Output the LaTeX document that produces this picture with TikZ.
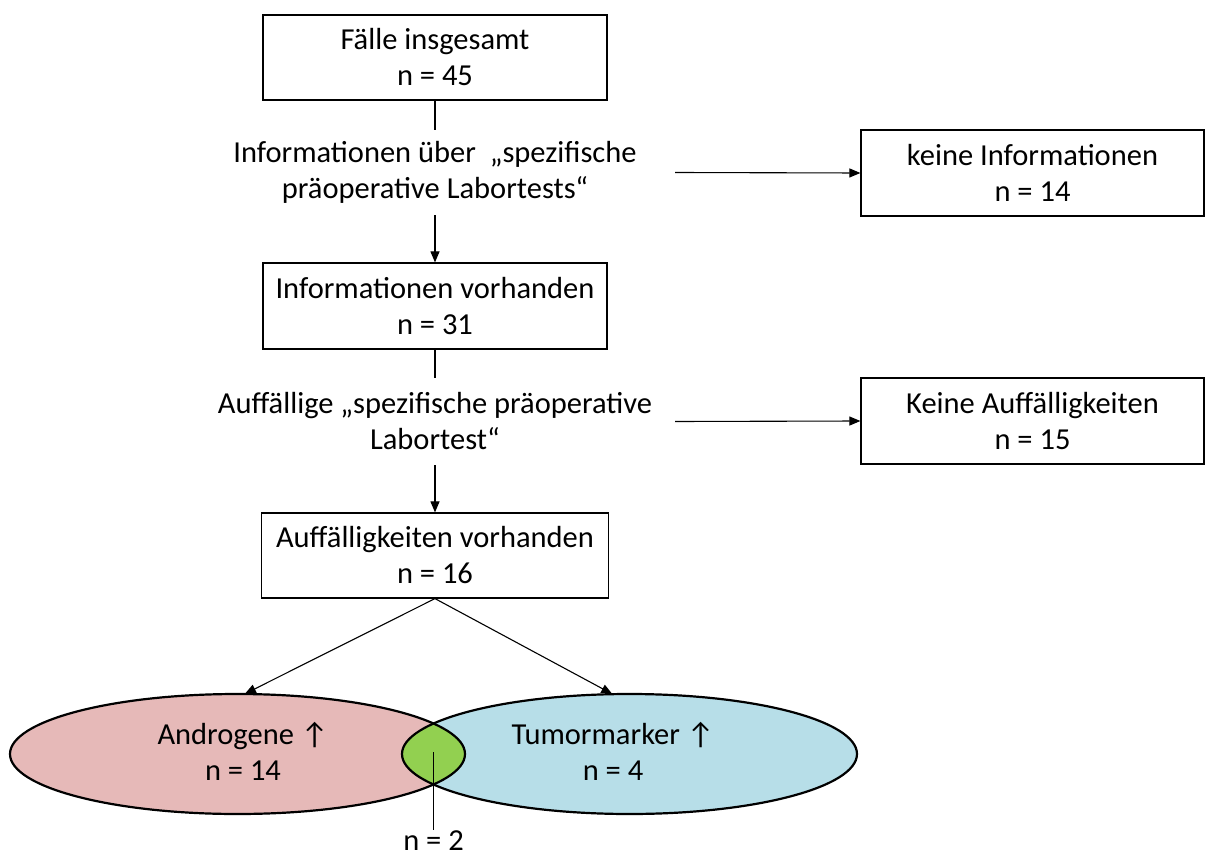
\documentclass[tikz,border=0pt]{standalone}
\usepackage{fontspec}
\setmainfont{Carlito}
\usetikzlibrary{arrows.meta,shapes.geometric}
\definecolor{pinkc}{HTML}{E6B9B8}
\definecolor{bluec}{HTML}{B7DEE8}
\definecolor{greenc}{HTML}{92D050}
\newcommand\fs{\fontsize{30.5}{36}\selectfont}
\begin{document}
\begin{tikzpicture}[x=1pt,y=-1pt,
  box/.style={draw,line width=1.2pt,inner sep=0pt,align=center,font=\fs},
  plain/.style={inner sep=0pt,align=center,font=\fs},
  arr/.style={line width=1.1pt,-{Triangle[length=11pt,width=9pt]}},
  conn/.style={line width=1.1pt},
  ellfill/.style={ellipse,inner sep=0pt,minimum width=455,minimum height=120},
  ellline/.style={line width=2.2pt}]
\useasboundingbox (0,0) rectangle (1205,861);
% boxes
\node[box,minimum width=344,minimum height=85] (b1) at (435,57.5) {Fälle insgesamt\\n = 45};
\node[plain,minimum width=480,minimum height=85] (q1) at (435,172.5) {Informationen über\ \ „spezifische\\präoperative Labortests“};
\node[box,minimum width=343,minimum height=86] (k1) at (1032.5,173) {keine Informationen\\n = 14};
\node[box,minimum width=344,minimum height=86] (b2) at (435,306) {Informationen vorhanden\\n = 31};
\node[plain,minimum width=480,minimum height=87] (q2) at (435,421.5) {Auffällige „spezifische präoperative\\Labortest“};
\node[box,minimum width=343,minimum height=86] (k2) at (1032.5,421) {Keine Auffälligkeiten\\n = 15};
\node[box,minimum width=347,minimum height=85] (b3) at (435,555.5) {Auffälligkeiten vorhanden\\n = 16};
% connectors
\draw[conn] (b1.south) -- (q1.north);
\draw[arr] (q1.south) -- (b2.north);
\draw[arr] (q1.east) -- (k1.west);
\draw[conn] (b2.south) -- (q2.north);
\draw[arr] (q2.south) -- (b3.north);
\draw[arr] (q2.east) -- (k2.west);
% ellipses
\node[ellfill,fill=pinkc] (A) at (237.5,754) {};
\node[ellfill,fill=bluec] (T) at (629.5,754) {};
\begin{scope}
\clip (A.center) ellipse [x radius=227.5,y radius=60];
\fill[greenc] (T.center) ellipse [x radius=227.5,y radius=60];
\end{scope}
\draw[ellline] (A.center) ellipse [x radius=227.5,y radius=60];
\draw[ellline] (T.center) ellipse [x radius=227.5,y radius=60];
\node[plain] (at1) at (243,751) {Androgene ↑\\n = 14};
\node[plain] (tt1) at (613,751) {Tumormarker ↑\\n = 4};
\draw[arr] (b3.south) -- (A.83);
\draw[arr] (b3.south) -- (T.106);
\coordinate (lens) at (433.5,752);
\node[plain,anchor=north,inner sep=1pt] (n2) at (433.5,830) {n = 2};
\draw[conn] (lens) -- (n2.north);
\end{tikzpicture}
\end{document}
